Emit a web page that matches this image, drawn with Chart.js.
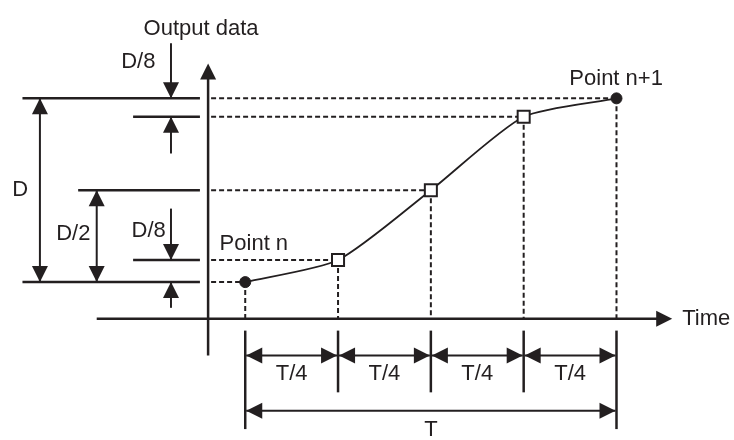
<!DOCTYPE html>
<html>
<head>
<meta charset="utf-8">
<script src="https://cdn.jsdelivr.net/npm/chart.js@4/dist/chart.umd.min.js"></script>
<style>
  html, body { margin: 0; padding: 0; background: #fff; }
  #wrap { width: 734px; height: 440px; position: relative; }
</style>
</head>
<body>
<div id="wrap"><canvas id="chart"></canvas></div>
<script>
// time in units of T, output in units of D
const timePoints = [0, 0.25, 0.5, 0.75, 1];
const outputValues = [0, 0.12, 0.5, 0.9, 1];
const pointKinds = ["circle", "rect", "rect", "rect", "circle"];
const quarterLabels = ["T/4", "T/4", "T/4", "T/4"];

const ink = "#231f20";
const font = "22px 'Liberation Sans', Arial, sans-serif";

function seg(ctx, x1, y1, x2, y2, w, dash) {
  ctx.save();
  ctx.lineWidth = w;
  ctx.setLineDash(dash || []);
  ctx.beginPath();
  ctx.moveTo(x1, y1);
  ctx.lineTo(x2, y2);
  ctx.stroke();
  ctx.restore();
}

// tip at (x, y), pointing in dir
function head(ctx, x, y, dir) {
  const len = 16, half = 8;
  ctx.beginPath();
  ctx.moveTo(x, y);
  if (dir === "up") { ctx.lineTo(x - half, y + len); ctx.lineTo(x + half, y + len); }
  if (dir === "down") { ctx.lineTo(x - half, y - len); ctx.lineTo(x + half, y - len); }
  if (dir === "left") { ctx.lineTo(x + len, y - half); ctx.lineTo(x + len, y + half); }
  if (dir === "right") { ctx.lineTo(x - len, y - half); ctx.lineTo(x - len, y + half); }
  ctx.closePath();
  ctx.fill();
}

const diagram = {
  id: "diagram",
  beforeDatasetsDraw(chart) {
    const ctx = chart.ctx;
    const xs = chart.scales.x, ys = chart.scales.y;
    const px = v => xs.getPixelForValue(v);
    const py = v => ys.getPixelForValue(v);
    const n = timePoints.length;
    ctx.save();
    ctx.strokeStyle = ink;
    ctx.fillStyle = ink;

    // axes
    const axisX = px(-0.1), axisY = py(-0.2);
    seg(ctx, axisX, py(-0.4), axisX, py(1.19) + 10, 2.5);
    head(ctx, axisX, py(1.19), "up");
    seg(ctx, px(-0.4), axisY, px(1.15) - 10, axisY, 2.5);
    head(ctx, px(1.15), axisY, "right");

    // dashed guides
    for (let i = 0; i < n; i++) {
      const x = px(timePoints[i]), y = py(outputValues[i]);
      seg(ctx, axisX + 3, y, x, y, 2, [5, 3]);
      seg(ctx, x, y, x, axisY, 2, [5, 3]);
    }

    // level lines left of the axis
    const lineEnd = px(-0.122);
    seg(ctx, px(-0.6), py(outputValues[4]), lineEnd, py(outputValues[4]), 2.5);
    seg(ctx, px(-0.302), py(outputValues[3]), lineEnd, py(outputValues[3]), 2.5);
    seg(ctx, px(-0.45), py(outputValues[2]), lineEnd, py(outputValues[2]), 2.5);
    seg(ctx, px(-0.302), py(outputValues[1]), lineEnd, py(outputValues[1]), 2.5);
    seg(ctx, px(-0.6), py(outputValues[0]), lineEnd, py(outputValues[0]), 2.5);

    // D
    let dx = px(-0.553);
    seg(ctx, dx, py(1), dx, py(0), 2);
    head(ctx, dx, py(1), "up");
    head(ctx, dx, py(0), "down");
    // D/2
    dx = px(-0.4);
    seg(ctx, dx, py(0.5), dx, py(0), 2);
    head(ctx, dx, py(0.5), "up");
    head(ctx, dx, py(0), "down");
    // D/8 top
    dx = px(-0.2);
    seg(ctx, dx, py(1.3), dx, py(outputValues[4]), 2);
    head(ctx, dx, py(outputValues[4]), "down");
    seg(ctx, dx, py(0.7), dx, py(outputValues[3]), 2);
    head(ctx, dx, py(outputValues[3]), "up");
    // D/8 bottom
    seg(ctx, dx, py(0.4), dx, py(outputValues[1]), 2);
    head(ctx, dx, py(outputValues[1]), "down");
    seg(ctx, dx, py(-0.14), dx, py(outputValues[0]), 2);
    head(ctx, dx, py(outputValues[0]), "up");

    // time dimensions
    for (let i = 0; i < n; i++) {
      const x = px(timePoints[i]);
      const outer = i === 0 || i === n - 1;
      seg(ctx, x, py(-0.264), x, py(outer ? -0.8 : -0.6), 2.5);
    }
    const qy = py(-0.4);
    for (let i = 0; i < n - 1; i++) {
      const a = px(timePoints[i]) + 1, b = px(timePoints[i + 1]) - 1;
      seg(ctx, a, qy, b, qy, 2);
      head(ctx, a, qy, "left");
      head(ctx, b, qy, "right");
    }
    const ty = py(-0.7);
    const t0 = px(timePoints[0]) + 1, t1 = px(timePoints[n - 1]) - 1;
    seg(ctx, t0, ty, t1, ty, 2);
    head(ctx, t0, ty, "left");
    head(ctx, t1, ty, "right");

    // text
    ctx.font = font;
    ctx.textBaseline = "middle";
    ctx.textAlign = "center";
    for (let i = 0; i < n - 1; i++) {
      ctx.fillText(quarterLabels[i], px((timePoints[i] + timePoints[i + 1]) / 2), py(-0.5));
    }
    ctx.fillText("D", px(-0.606), py(0.5));
    ctx.fillText("D/2", px(-0.463), py(0.26));
    ctx.fillText("D/8", px(-0.288), py(1.2));
    ctx.fillText("D/8", px(-0.26), py(0.28));
    ctx.fillText("Output data", px(-0.119), py(1.38));
    ctx.textAlign = "left";
    ctx.fillText("Point n", px(-0.069), py(0.206));
    ctx.fillText("Point n+1", px(0.873), py(1.104));
    ctx.fillText("Time", px(1.177), axisY);
    ctx.textAlign = "center";
    ctx.textBaseline = "alphabetic";
    ctx.fillText("T", px(0.5), py(-0.84));
    ctx.restore();
  }
};

new Chart(document.getElementById("chart"), {
  type: "line",
  data: {
    datasets: [{
      data: timePoints.map((t, i) => ({ x: t, y: outputValues[i] })),
      borderColor: ink,
      borderWidth: 1.8,
      tension: 0.22,
      pointStyle: pointKinds,
      pointRadius: pointKinds.map(k => (k === "rect" ? 8.5 : 5.5)),
      pointBackgroundColor: pointKinds.map(k => (k === "rect" ? "#fff" : ink)),
      pointBorderColor: ink,
      pointBorderWidth: pointKinds.map(k => (k === "rect" ? 2 : 1)),
    }],
  },
  options: {
    responsive: true,
    maintainAspectRatio: false,
    animation: false,
    layout: { padding: 0 },
    plugins: { legend: { display: false }, tooltip: { enabled: false } },
    scales: {
      x: { type: "linear", display: false, min: -0.643, max: 1.299 },
      y: { type: "linear", display: false, min: -0.824, max: 1.5 },
    },
  },
  plugins: [diagram],
});
</script>
</body>
</html>
